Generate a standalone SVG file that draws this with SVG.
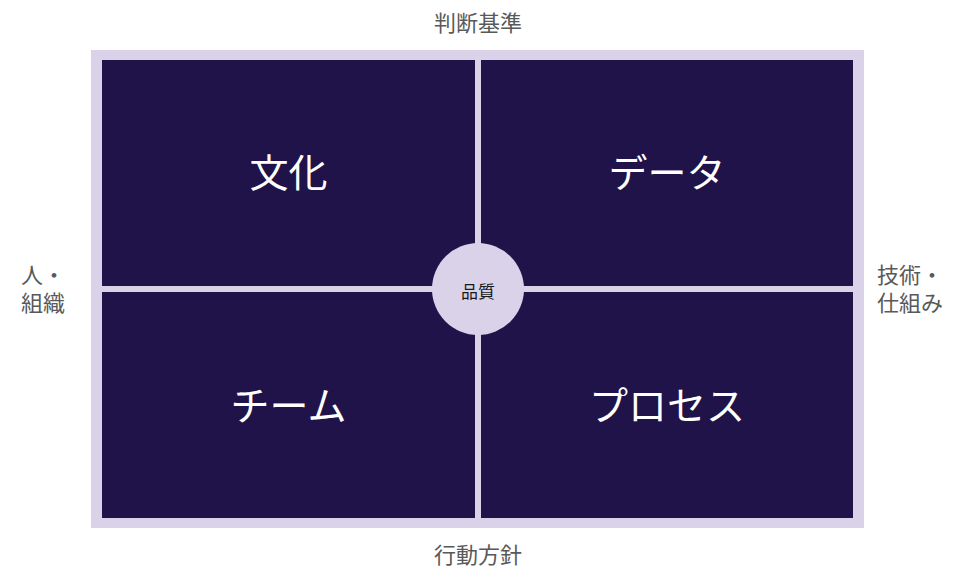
<svg xmlns="http://www.w3.org/2000/svg" width="960" height="580" viewBox="0 0 960 580">
<style>
.frame{fill:#d9d2e9}
.quad{fill:#20134a}
.ql{font-family:"Noto Sans CJK JP","Noto Sans",sans-serif;font-size:39px;fill:#ffffff;text-anchor:middle;dominant-baseline:central}
.axis{font-family:"Noto Sans CJK JP","Noto Sans",sans-serif;font-size:22px;fill:#595959}
.mid{text-anchor:middle}
.hub{fill:#d9d2e9}
.hubt{font-family:"Noto Sans CJK JP","Noto Sans",sans-serif;font-size:17px;fill:#1a1a1a;text-anchor:middle;dominant-baseline:central}
</style>
<rect width="960" height="580" fill="#ffffff"/>
<g id="frame"><rect class="frame" x="91" y="50" width="773" height="478"/></g>
<g id="connectors">
<rect class="frame" x="475" y="60" width="6" height="458"/>
<rect class="frame" x="102" y="286" width="751" height="6"/>
</g>
<g id="culture"><rect class="quad" x="102" y="60" width="373" height="226"/><text class="ql" x="288.5" y="170">文化</text></g>
<g id="data"><rect class="quad" x="481" y="60" width="372" height="226"/><text class="ql" x="667" y="170">データ</text></g>
<g id="team"><rect class="quad" x="102" y="292" width="373" height="226"/><text class="ql" x="288.5" y="403">チーム</text></g>
<g id="process"><rect class="quad" x="481" y="292" width="372" height="226"/><text class="ql" x="667" y="403">プロセス</text></g>
<g id="quality"><circle class="hub" cx="478" cy="289" r="46"/><text class="hubt" x="478" y="290">品質</text></g>
<g id="axis-top"><text class="axis mid" x="478" y="31">判断基準</text></g>
<g id="axis-bottom"><text class="axis mid" x="478" y="563">行動方針</text></g>
<g id="axis-left"><text class="axis" x="21" y="283">人・</text><text class="axis" x="21" y="311">組織</text></g>
<g id="axis-right"><text class="axis" x="877" y="283">技術・</text><text class="axis" x="877" y="311">仕組み</text></g>
</svg>
